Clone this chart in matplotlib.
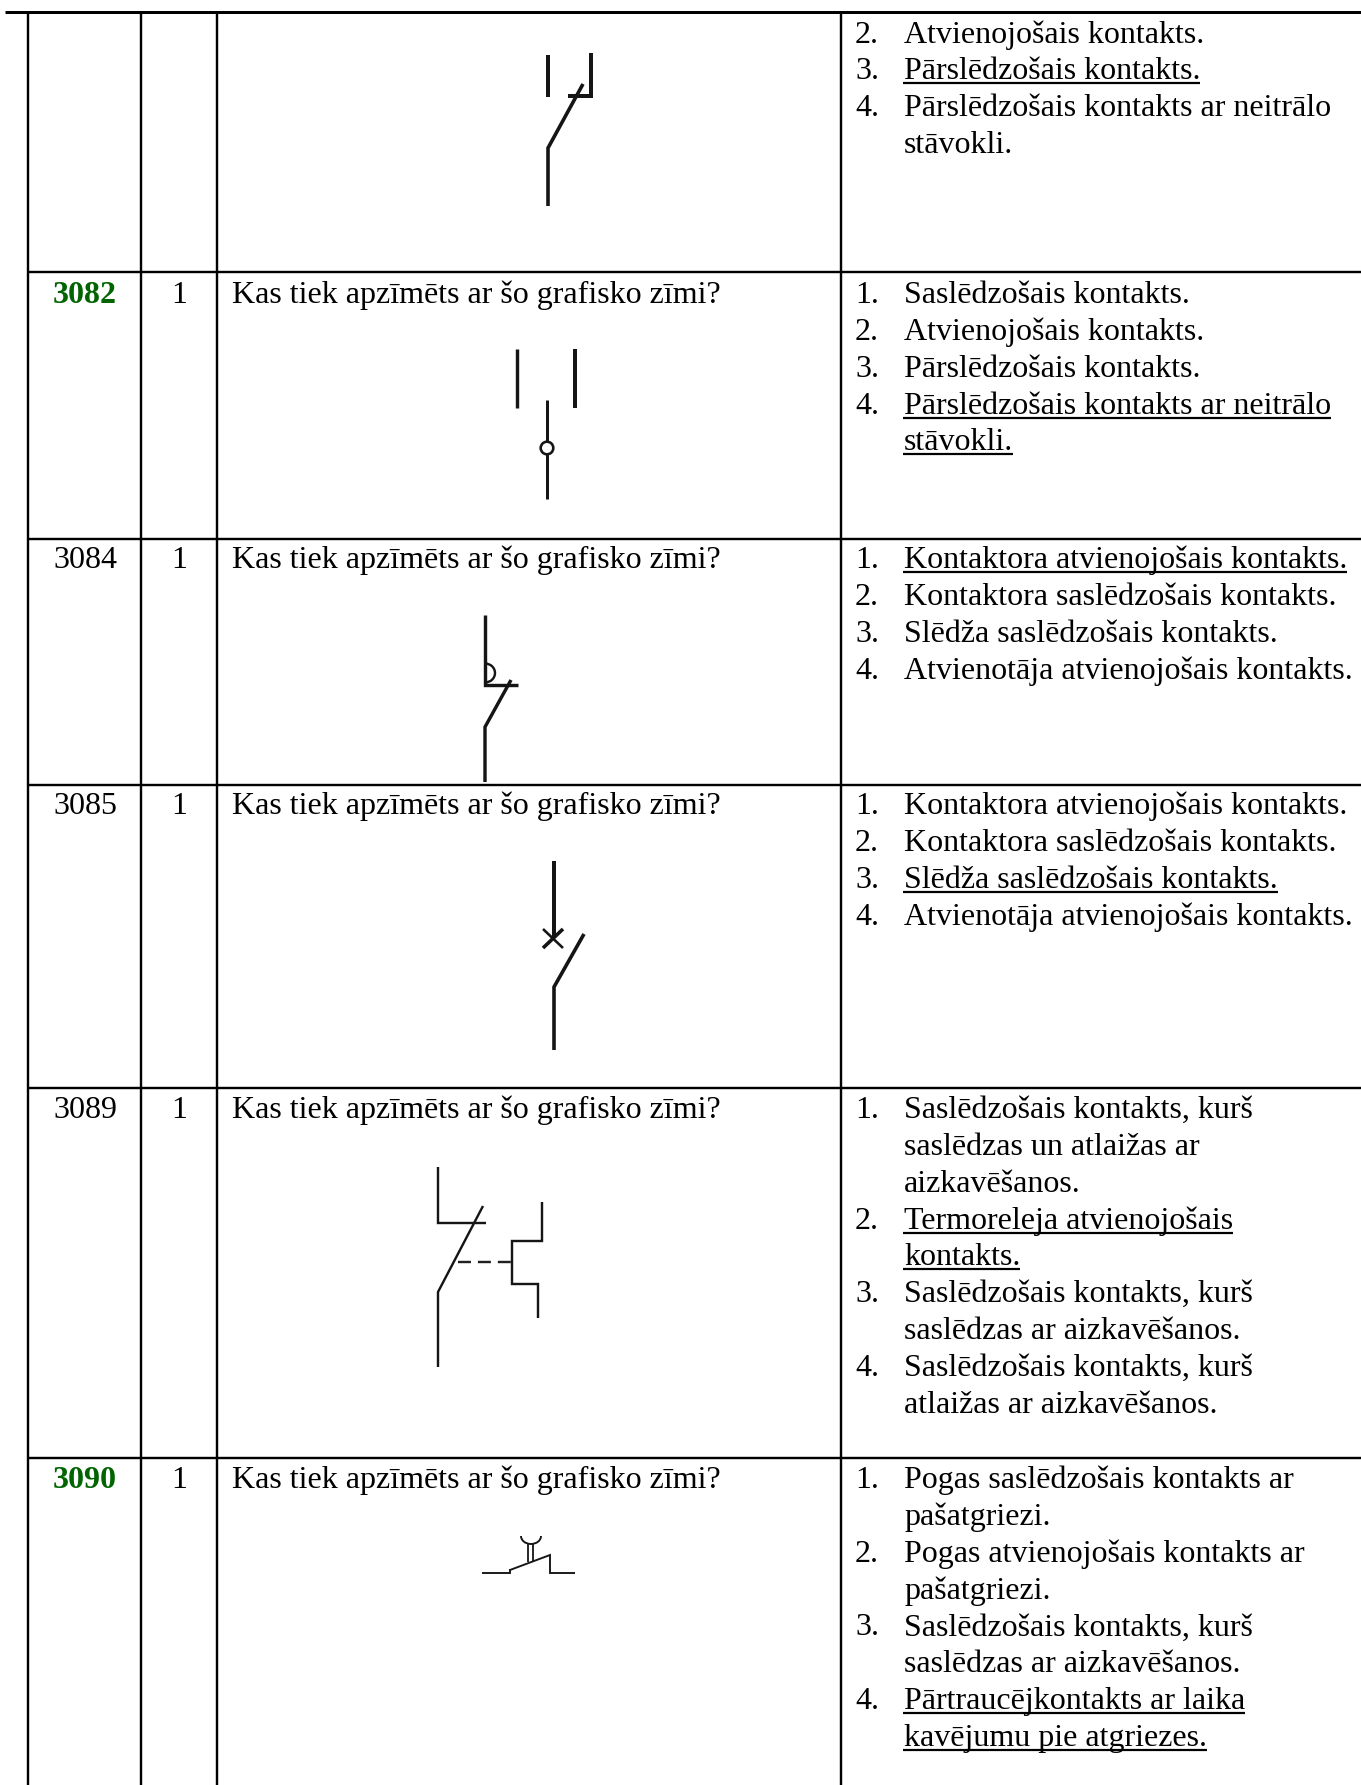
import numpy as np
import matplotlib
matplotlib.use("Agg")
import matplotlib.pyplot as plt
from matplotlib.patches import Arc, Circle

W, H = 1361, 1785
FONT = "Liberation Serif"
FS = 23.03
PITCH = 36.85

# table content
row_ids = ["", "3082", "3084", "3085", "3089", "3090"]
row_points = ["", "1", "1", "1", "1", "1"]
row_green = [False, True, False, False, False, True]
question = "Kas tiek apzīmēts ar šo grafisko zīmi?"

# (number, text, underlined), number empty on wrapped lines
options_0 = [("2.", "Atvienojošais kontakts.", False),
             ("3.", "Pārslēdzošais kontakts.", True),
             ("4.", "Pārslēdzošais kontakts ar neitrālo", False),
             ("", "stāvokli.", False)]
options_1 = [("1.", "Saslēdzošais kontakts.", False),
             ("2.", "Atvienojošais kontakts.", False),
             ("3.", "Pārslēdzošais kontakts.", False),
             ("4.", "Pārslēdzošais kontakts ar neitrālo", True),
             ("", "stāvokli.", True)]
options_2 = [("1.", "Kontaktora atvienojošais kontakts.", True),
             ("2.", "Kontaktora saslēdzošais kontakts.", False),
             ("3.", "Slēdža saslēdzošais kontakts.", False),
             ("4.", "Atvienotāja atvienojošais kontakts.", False)]
options_3 = [("1.", "Kontaktora atvienojošais kontakts.", False),
             ("2.", "Kontaktora saslēdzošais kontakts.", False),
             ("3.", "Slēdža saslēdzošais kontakts.", True),
             ("4.", "Atvienotāja atvienojošais kontakts.", False)]
options_4 = [("1.", "Saslēdzošais kontakts, kurš", False),
             ("", "saslēdzas un atlaižas ar", False),
             ("", "aizkavēšanos.", False),
             ("2.", "Termoreleja atvienojošais", True),
             ("", "kontakts.", True),
             ("3.", "Saslēdzošais kontakts, kurš", False),
             ("", "saslēdzas ar aizkavēšanos.", False),
             ("4.", "Saslēdzošais kontakts, kurš", False),
             ("", "atlaižas ar aizkavēšanos.", False)]
options_5 = [("1.", "Pogas saslēdzošais kontakts ar", False),
             ("", "pašatgriezi.", False),
             ("2.", "Pogas atvienojošais kontakts ar", False),
             ("", "pašatgriezi.", False),
             ("3.", "Saslēdzošais kontakts, kurš", False),
             ("", "saslēdzas ar aizkavēšanos.", False),
             ("4.", "Pārtraucējkontakts ar laika", True),
             ("", "kavējumu pie atgriezes.", True)]
row_options = [options_0, options_1, options_2, options_3, options_4, options_5]
row_baselines = [42.5, 303, 568, 814, 1118, 1488]

# table grid
col_lines = [28, 141, 217, 841]
row_lines = [272, 539, 785, 1088, 1458]

# symbols, (x pts, y pts, line width px)
symbol_lines = [
    # row 0
    ([548, 548], [55, 97], 4.0),
    ([591, 591, 568], [53, 96, 96], 4.0),
    ([583, 548, 548], [84, 148, 206], 3.6),
    # row 1
    ([517, 517], [349, 408], 3.4),
    ([575, 575], [349, 408], 4.0),
    ([547, 547], [400, 499], 3.0),
    # row 2
    ([485, 485, 518], [615, 685, 685], 3.4),
    ([511, 485, 485], [680, 727, 782], 3.4),
    # row 3
    ([554, 554], [861, 938], 4.0),
    ([543, 563], [929, 948], 2.6),
    ([563, 543], [929, 948], 3.6),
    ([584, 554, 554], [934, 987, 1050], 3.6),
    # row 4
    ([438, 438, 486], [1167, 1223, 1223], 2.4),
    ([483, 438, 438], [1206, 1292, 1367], 2.4),
    ([542, 542, 512, 512, 538, 538], [1202, 1241, 1241, 1284, 1284, 1318], 2.4),
    # row 5
    ([482, 510, 510], [1573, 1573, 1569], 1.9),
    ([510, 550, 550, 575], [1570, 1555, 1573, 1573], 1.9),
    ([528, 528], [1544, 1562], 1.8),
    ([533, 533], [1544, 1562], 1.8),
]
symbol_dashes = ([458, 512], [1262, 1262], 2.4)
symbol_circle = (547, 448, 6.3)
symbol_arcs = [(485, 673, 20, 19, -90, 90, 2.4),
               (531, 1536, 20, 16, 0, 180, 1.9)]


def px(w):
    return w * 0.72


def draw_text_row(ax, renderer, base, options):
    for i, (num, text, under) in enumerate(options):
        y = base + i * PITCH
        if num:
            ax.text(855, y, num, fontsize=FS, family=FONT, va="baseline", color="black")
        t = ax.text(904, y, text, fontsize=FS, family=FONT, va="baseline", color="black")
        if under:
            width = t.get_window_extent(renderer).width
            ax.plot([903, 904 + width], [y + 4, y + 4], color="black", lw=px(2.2), solid_capstyle="butt")


def main():
    fig = plt.figure(figsize=(W / 100, H / 100), dpi=100)
    ax = fig.add_axes([0, 0, 1, 1])
    ax.set_xlim(0, W)
    ax.set_ylim(H, 0)
    ax.axis("off")
    renderer = fig.canvas.get_renderer()

    # grid
    ax.plot([5, W], [12, 12], color="black", lw=px(3.0), solid_capstyle="butt")
    for x in col_lines:
        ax.plot([x, x], [12, H], color="black", lw=px(2.4), solid_capstyle="butt")
    for y in row_lines:
        ax.plot([28, W], [y, y], color="black", lw=px(2.4), solid_capstyle="butt")

    # text
    for i, base in enumerate(row_baselines):
        if row_ids[i]:
            if row_green[i]:
                ax.text(85, base, row_ids[i], fontsize=FS, family=FONT, weight="bold",
                        color="#006400", ha="center", va="baseline")
            else:
                ax.text(85, base, row_ids[i], fontsize=FS, family=FONT,
                        color="black", ha="center", va="baseline")
            ax.text(179, base, row_points[i], fontsize=FS, family=FONT,
                    color="black", ha="center", va="baseline")
            ax.text(232, base, question, fontsize=FS, family=FONT,
                    color="black", va="baseline")
        draw_text_row(ax, renderer, base, row_options[i])

    # symbols
    for xs, ys, w in symbol_lines:
        ax.plot(xs, ys, color="#151515", lw=px(w), solid_capstyle="butt", solid_joinstyle="miter")
    xs, ys, w = symbol_dashes
    ax.plot(xs, ys, color="#202020", lw=px(w), dashes=(5.4, 2.9), dash_capstyle="butt")
    cx, cy, r = symbol_circle
    ax.add_patch(Circle((cx, cy), r, facecolor="white", edgecolor="#151515", lw=px(2.6), zorder=5))
    for cx, cy, aw, ah, a0, a1, w in symbol_arcs:
        ax.add_patch(Arc((cx, cy), aw, ah, theta1=a0, theta2=a1, color="#151515", lw=px(w)))

    fig.savefig("out.png", dpi=100)


if __name__ == "__main__":
    main()
